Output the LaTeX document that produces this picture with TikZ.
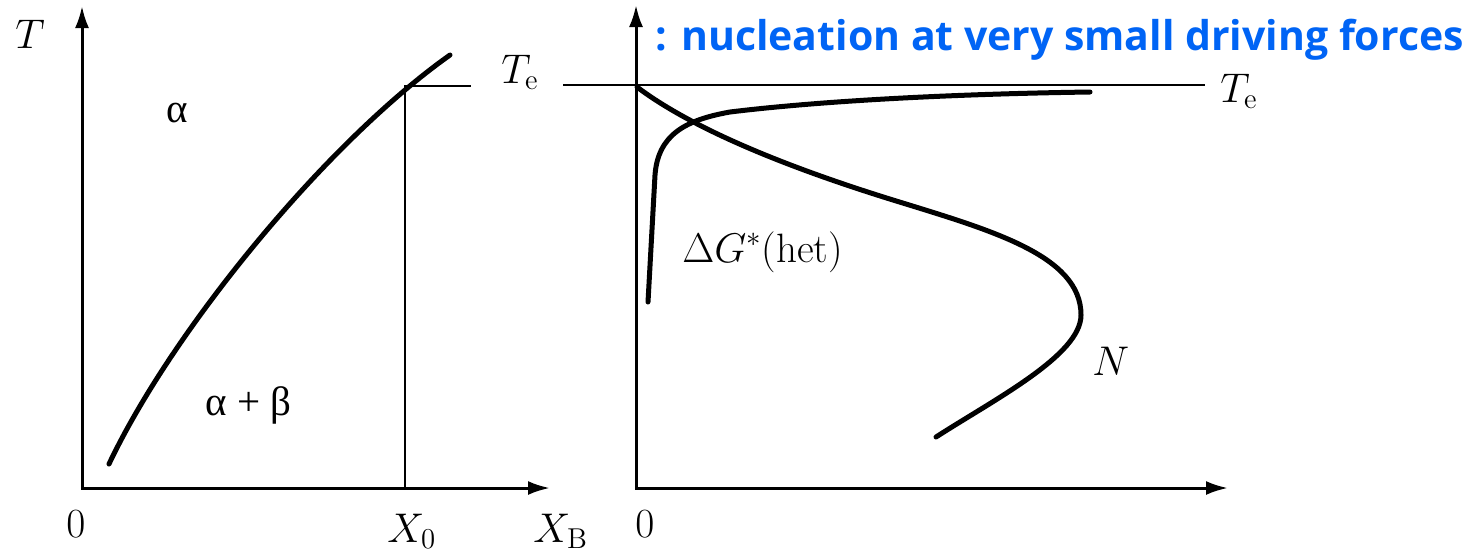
\documentclass[tikz,border=0pt]{standalone}
\usepackage{fontspec}
\usepackage{tikz}
\usetikzlibrary{arrows.meta}
\newfontfamily\greekfont{Liberation Serif}
\newfontfamily\notefont{Open Sans}
\definecolor{noteblue}{RGB}{0,100,245}

\begin{document}
\begin{tikzpicture}[x=0.5pt,y=-0.5pt,
    axis/.style={line width=1.5pt,line join=miter,{Latex[length=11pt,width=7pt]}-{Latex[length=11pt,width=7pt]}},
    curve/.style={line width=2.5pt,line cap=round},
    guide/.style={line width=1.2pt},
    lbl/.style={font=\fontsize{20.5}{24}\selectfont,inner sep=0pt}]
  \useasboundingbox (0,0) rectangle (1481,553);

  % --- 1. left axes: phase diagram ---
  \coordinate (LT) at (82,6);
  \coordinate (LO) at (82,488);
  \coordinate (LX) at (550,488);
  \draw[axis] (LT) -- (LO) -- (LX);

  % --- 2. solvus line and X_0 ---
  \coordinate (S1) at (109,464);
  \coordinate (S2) at (450,55);
  \draw[curve] (S1) .. controls (173,329) and (327,142) .. (S2);
  \coordinate (X0) at (405,488);
  \coordinate (TeL) at (471,86);
  \draw[guide] (X0) |- (TeL);

  % --- 3. right axes ---
  \coordinate (RT) at (636,5);
  \coordinate (RO) at (636,488);
  \coordinate (RX) at (1228,488);
  \draw[axis] (RT) -- (RO) -- (RX);
  \coordinate (TeA) at (563,85);
  \coordinate (TeB) at (1205,85);
  \draw[guide] (TeA) -- (TeB);

  % --- 4. N and Delta G* curves ---
  \coordinate (N0) at (637,87);
  \coordinate (N1) at (893,200);
  \coordinate (N2) at (1081,315);
  \coordinate (N3) at (936,437);
  \draw[curve] (N0) .. controls (690,127) and (780,165) .. (N1)
    .. controls (990,230) and (1081,255) .. (N2)
    .. controls (1081,355) and (995,399) .. (N3);
  \coordinate (G0) at (648,302);
  \coordinate (G1) at (655,175);
  \coordinate (G2) at (730,112);
  \coordinate (G3) at (1090,92);
  \draw[curve] (G0) -- (G1) .. controls (658,135) and (685,120) .. (G2)
    .. controls (820,101) and (950,94) .. (G3);

  % --- 5. labels ---
  \node[lbl,anchor=base west] (tT) at (15,48) {$T$};
  \node[lbl,anchor=base west] (tA) at (166,122) {\greekfont α};
  \node[lbl,anchor=base west] (tAB) at (205,415) {\greekfont α + β};
  \node[lbl,anchor=base west] (tTeL) at (501,83) {$T_{\mathrm{e}}$};
  \node[lbl,anchor=base] (tO1) at (76,537) {$0$};
  \node[lbl,anchor=base west] (tX0) at (387,542) {$X_0$};
  \node[lbl,anchor=base west] (tXB) at (533,542) {$X_{\mathrm{B}}$};
  \node[lbl,anchor=base] (tO2) at (645,537) {$0$};
  \node[lbl,anchor=base west] (tTeR) at (1220,102) {$T_{\mathrm{e}}$};
  \node[lbl,anchor=base west] (tG) at (682,262) {$\Delta G^{*}$(het)};
  \node[lbl,anchor=base west] (tN) at (1092,375) {$N$};
  \node[anchor=base west,inner sep=0pt,text=noteblue,
    font=\notefont\bfseries\fontsize{20.5}{24}\selectfont] (note) at (655,50)
    {: nucleation at very small driving forces};
\end{tikzpicture}
\end{document}
